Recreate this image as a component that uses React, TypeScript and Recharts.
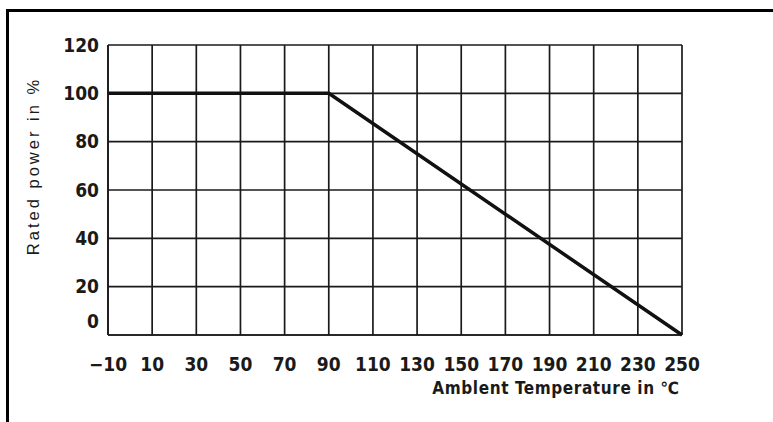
import React from 'react';
import { LineChart, Line, XAxis, YAxis, CartesianGrid } from 'recharts';

// derating curve: full power until 90 °C, then linear down to 0 at 250 °C
const temps = [-10, 90, 250];
const power = [100, 100, 0];

const xTicks = [-10, 10, 30, 50, 70, 90, 110, 130, 150, 170, 190, 210, 230, 250];
const yTicks = [0, 20, 40, 60, 80, 100, 120];

const xTitle = 'Amblent Temperature in ℃';
const yTitle = 'Rated power in %';

const data = temps.map((t, i) => ({ t, p: power[i] }));

const NUM_FONT = "'Liberation Sans Narrow', 'DejaVu Sans Condensed', 'Liberation Sans', sans-serif";
const INK = '#1a1a1a';

const XTick = (props: any) => {
  const { x, y, payload } = props;
  const label = payload.value < 0 ? '−' + Math.abs(payload.value) : String(payload.value);
  return (
    <text x={x} y={y + 22} textAnchor="middle" dominantBaseline="middle"
      fontFamily={NUM_FONT} fontWeight="bold" fontSize={19} fill={INK}>
      {label}
    </text>
  );
};

const YTick = (props: any) => {
  const { x, y, payload } = props;
  // the 0 label sits a bit above the bottom line in the original
  const shift = payload.value === 0 ? -13 : 1;
  return (
    <text x={x - 1} y={y + shift} textAnchor="end" dominantBaseline="middle"
      fontFamily={NUM_FONT} fontWeight="bold" fontSize={19} fill={INK}>
      {payload.value}
    </text>
  );
};

export default function App() {
  return (
    <div style={{ position: 'absolute', left: 0, top: 0, width: 773, height: 422, background: '#fff' }}>
      <div style={{
        position: 'absolute', left: 6, top: 9, width: 767, height: 413,
        borderTop: '3px solid #000', borderLeft: '3px solid #000', boxSizing: 'border-box',
      }} />
      <LineChart width={773} height={422} data={data}
        margin={{ top: 45, right: 91, left: 0, bottom: 0 }}>
        <CartesianGrid stroke={INK} strokeWidth={1.7} />
        <XAxis dataKey="t" type="number" domain={[-10, 250]} ticks={xTicks}
          height={87} axisLine={{ stroke: INK, strokeWidth: 1.7 }} tickLine={false}
          tick={<XTick />} interval={0} />
        <YAxis type="number" domain={[0, 120]} ticks={yTicks} width={108}
          axisLine={{ stroke: INK, strokeWidth: 1.7 }} tickLine={false}
          tick={<YTick />} interval={0} />
        <Line type="linear" dataKey="p" stroke="#111" strokeWidth={3.5} dot={false}
          isAnimationActive={false} />
        <text x={35} y={166} transform="rotate(-90 35 166)" textAnchor="middle"
          dominantBaseline="middle" fontFamily="'Liberation Sans', Arial, sans-serif"
          fontSize={16.5} letterSpacing={3} fill={INK}>
          {yTitle}
        </text>
        <text x={556} y={389} textAnchor="middle" dominantBaseline="middle"
          fontFamily={NUM_FONT} fontWeight="bold" fontSize={17} letterSpacing={0.6} fill={INK}>
          {xTitle}
        </text>
      </LineChart>
    </div>
  );
}
